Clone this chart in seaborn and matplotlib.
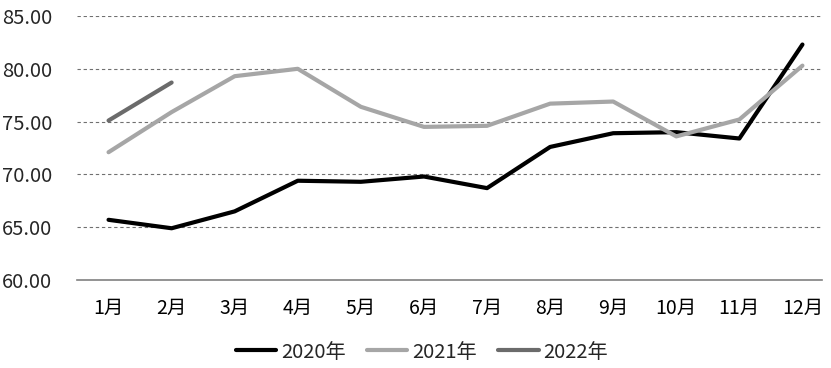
import matplotlib
matplotlib.use("Agg")
import matplotlib.pyplot as plt
import seaborn as sns
import pandas as pd
import numpy as np

months = ["1月", "2月", "3月", "4月", "5月", "6月", "7月", "8月", "9月", "10月", "11月", "12月"]
v2020 = [65.7, 64.9, 66.5, 69.4, 69.3, 69.8, 68.7, 72.6, 73.9, 74.0, 73.4, 82.3]
v2021 = [72.1, 75.9, 79.3, 80.0, 76.4, 74.5, 74.6, 76.7, 76.9, 73.6, 75.2, 80.3]
v2022 = [75.1, 78.7]
series_names = ["2020年", "2021年", "2022年"]
colors = ["#000000", "#A6A6A6", "#6B6B6B"]
yticks = [60, 65, 70, 75, 80, 85]

rows = []
for name, vals in zip(series_names, [v2020, v2021, v2022]):
    for m, v in zip(months, vals):
        rows.append({"month": m, "series": name, "value": v, "pos": months.index(m)})
df = pd.DataFrame(rows)

sns.set_theme(style="white")
plt.rcParams["font.family"] = ["Noto Sans CJK SC", "DejaVu Sans"]

fig = plt.figure(figsize=(8.31, 3.68), dpi=100)
ax = fig.add_axes([77/831, 1-280/368, (822-77)/831, (280-16)/368])

sns.lineplot(data=df, x="pos", y="value", hue="series", palette=dict(zip(series_names, colors)),
             linewidth=3.0, ax=ax, sort=False, legend=True, estimator=None)

ax.set_ylim(60, 85)
ax.set_xlim(-0.5, 11.31)
ax.set_yticks(yticks)
ax.set_yticklabels([f"{t:.2f}" for t in yticks])
ax.set_xticks(range(12))
ax.set_xticklabels(months)
ax.set_xticks(np.arange(-0.5, 11.0, 1.0), minor=True)
ax.tick_params(axis="x", which="major", length=0, pad=13, labelsize=14, colors="#000000")
ax.tick_params(axis="x", which="minor", length=6, width=1, color="#808080", direction="out")
ax.tick_params(axis="y", length=0, pad=18, labelsize=14.5)
for lab in ax.get_yticklabels():
    lab.set_horizontalalignment("right")

ax.set_xlabel("")
ax.set_ylabel("")
for s in ["left", "right", "top"]:
    ax.spines[s].set_visible(False)
ax.spines["bottom"].set_color("#808080")
ax.spines["bottom"].set_linewidth(1.2)

for t in yticks[1:]:
    ax.axhline(t, color="#707070", linestyle=(0, (3, 2.5)), linewidth=0.8, zorder=0)

handles, labels = ax.get_legend_handles_labels()
ax.get_legend().remove()
fig.legend(handles, labels, loc="center", bbox_to_anchor=(0.508, 1-352/368), ncol=3, frameon=False,
           fontsize=14.5, handlelength=2.0, handletextpad=0.25, columnspacing=1.05)

fig.savefig("out.png", dpi=100)
